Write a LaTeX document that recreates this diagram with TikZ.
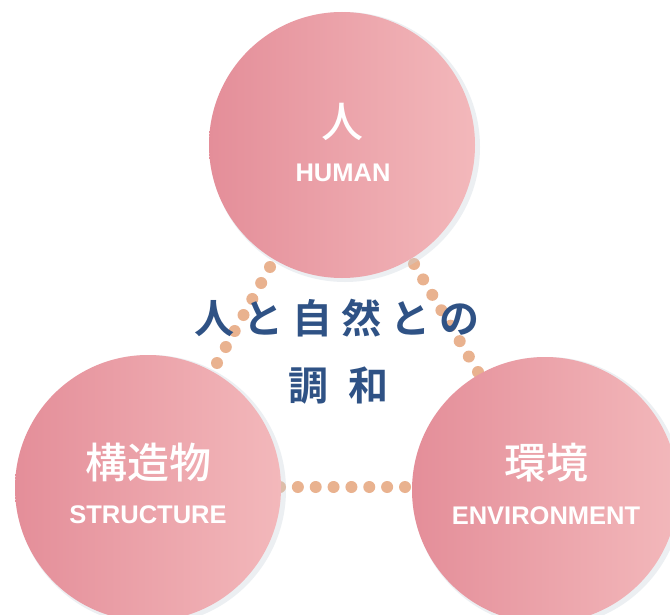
\documentclass[tikz,border=0pt]{standalone}
\usepackage{fontspec}
\setmainfont{Liberation Sans}
\newfontfamily\cjk{Noto Sans CJK JP Medium}
\newfontfamily\cjkb{Noto Sans CJK JP Bold}
\usetikzlibrary{calc}
\definecolor{pinkL}{HTML}{E48E99}
\definecolor{pinkR}{HTML}{F3B8BB}
\definecolor{dotc}{HTML}{E9B28F}
\definecolor{titleblue}{HTML}{2F5285}
\definecolor{shadowc}{HTML}{C9D3DC}
\tikzset{
  bigcirc/.style={circle, minimum size=266pt, inner sep=0pt, left color=pinkL, right color=pinkR, draw=none},
  halo/.style={circle, minimum size=270pt, inner sep=0pt, fill=shadowc, opacity=0.35, draw=none},
  dotmark/.style={circle, fill=dotc, minimum size=12pt, inner sep=0pt, draw=none},
  kanji/.style={text=white, font=\cjk\fontsize{42pt}{44pt}\selectfont, inner sep=0pt},
  engl/.style={text=white, font=\bfseries\fontsize{25.5pt}{27pt}\selectfont, inner sep=0pt},
  titletext/.style={text=titleblue, font=\cjkb\fontsize{40pt}{44pt}\selectfont, inner sep=0pt}
}
\begin{document}
\begin{tikzpicture}[x=1pt,y=-1pt]
\useasboundingbox (0,0) rectangle (670,615);
\clip (0,0) rectangle (670,615);
\fill[white] (0,0) rectangle (670,615);
% dot chains (behind the circles)
\coordinate (tl1) at (270,267);
\coordinate (tl2) at (217,363);
\coordinate (tr1) at (414,264);
\coordinate (tr2) at (478,372);
\coordinate (b1) at (280,487);
\coordinate (b2) at (405,487);
\foreach \t in {0,...,6} \node[dotmark] at ($(tl1)!\t/6!(tl2)$) {};
\foreach \t in {0,...,7} \node[dotmark] at ($(tr1)!\t/7!(tr2)$) {};
\foreach \t in {0,...,7} \node[dotmark] at ($(b1)!\t/7!(b2)$) {};
% soft halos
\node[halo] at (345,147) {};
\node[halo] at (151,490) {};
\node[halo] at (548,492) {};
% circles
\node[bigcirc] (human) at (342,145) {};
\node[bigcirc] (structure) at (148,488) {};
\node[bigcirc] (environment) at (545,490) {};
% labels
\node[kanji] (hk) at (342,122) {人};
\node[engl] (he) at (343,173) {HUMAN};
\node[kanji] (sk) at (148,463) {構造物};
\node[engl] (se) at (148,515) {STRUCTURE};
\node[kanji] (ek) at (546,463) {環境};
\node[engl] (ee) at (546,516) {ENVIRONMENT};
% title
\node[titletext] (t1) at (337,318) {人\hspace{9pt}と\hspace{9pt}自\hspace{9pt}然\hspace{9pt}と\hspace{9pt}の};
\node[titletext] (t2) at (338,386) {調\hspace{20pt}和};
\end{tikzpicture}
\end{document}
